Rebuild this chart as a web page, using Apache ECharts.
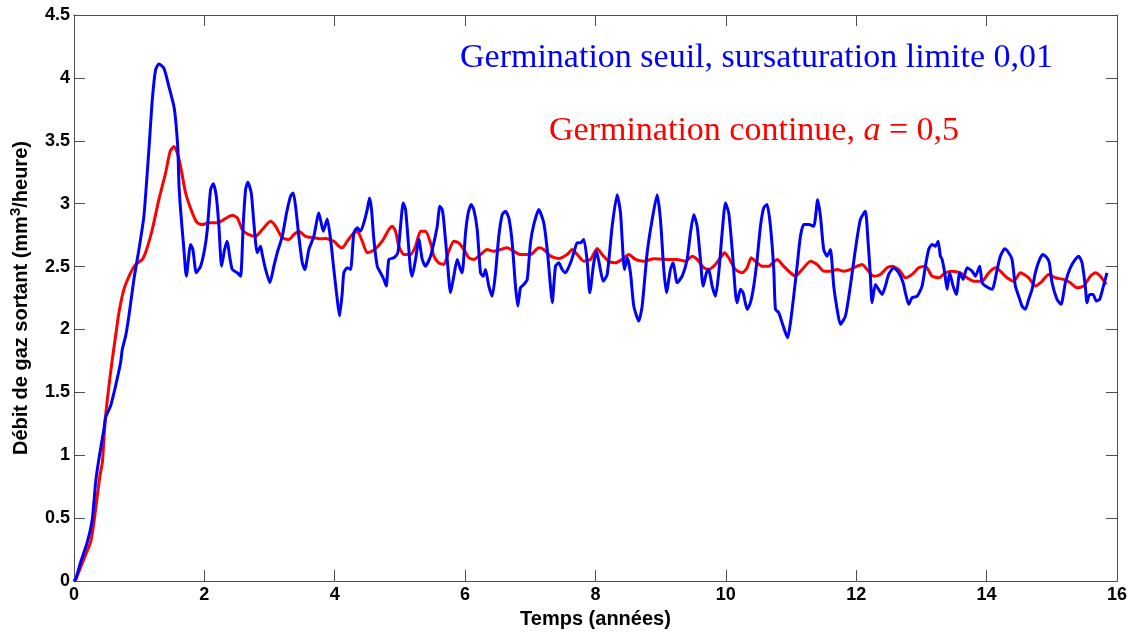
<!DOCTYPE html>
<html>
<head>
<meta charset="utf-8">
<script src="https://cdn.jsdelivr.net/npm/echarts@6/dist/echarts.min.js"></script>
<style>html,body{margin:0;padding:0;background:#fff;}#c{width:1131px;height:634px;}</style>
</head>
<body>
<div id="c"></div>
<script>
var xTicks = [0, 2, 4, 6, 8, 10, 12, 14, 16];
var yTicks = [0, 0.5, 1, 1.5, 2, 2.5, 3, 3.5, 4, 4.5];

var blueLabel = 'Germination seuil, sursaturation limite 0,01';
var redLabel = 'Germination continue, ';

var blueX = [0,0.03,0.103,0.205,0.282,0.333,0.383,0.46,0.486,0.563,0.639,0.716,0.742,0.793,0.843,0.92,0.997,1.073,1.15,1.202,1.253,1.303,1.38,1.457,1.534,1.56,1.595,1.61,1.636,1.687,1.724,1.79,1.825,1.877,1.943,2.004,2.046,2.096,2.138,2.184,2.224,2.265,2.311,2.352,2.388,2.429,2.506,2.556,2.598,2.633,2.668,2.72,2.76,2.812,2.863,2.889,2.94,3.006,3.067,3.119,3.196,3.262,3.323,3.364,3.4,3.45,3.503,3.542,3.604,3.68,3.757,3.825,3.886,3.937,3.987,4.039,4.074,4.116,4.14,4.193,4.243,4.294,4.346,4.397,4.447,4.499,4.535,4.565,4.601,4.653,4.703,4.754,4.791,4.831,4.907,4.969,5.01,5.051,5.087,5.122,5.163,5.189,5.24,5.291,5.343,5.393,5.47,5.521,5.573,5.613,5.649,5.674,5.726,5.777,5.827,5.879,5.93,5.956,6.007,6.048,6.094,6.134,6.186,6.237,6.278,6.313,6.364,6.416,6.467,6.517,6.57,6.62,6.671,6.723,6.773,6.809,6.85,6.901,6.953,7.003,7.054,7.131,7.207,7.26,7.31,7.336,7.387,7.437,7.49,7.54,7.617,7.668,7.72,7.77,7.821,7.873,7.913,7.974,8.016,8.066,8.118,8.18,8.256,8.333,8.384,8.445,8.486,8.537,8.588,8.664,8.716,8.793,8.87,8.946,8.997,9.048,9.089,9.15,9.192,9.253,9.33,9.406,9.457,9.508,9.56,9.61,9.652,9.703,9.738,9.79,9.841,9.891,9.943,9.994,10.044,10.097,10.147,10.173,10.224,10.265,10.327,10.377,10.428,10.48,10.531,10.581,10.633,10.684,10.735,10.761,10.811,10.863,10.914,10.949,10.991,11.041,11.093,11.144,11.195,11.271,11.348,11.409,11.451,11.501,11.553,11.604,11.655,11.707,11.757,11.834,11.91,11.987,12.063,12.14,12.176,12.217,12.243,12.293,12.344,12.397,12.447,12.498,12.575,12.651,12.719,12.754,12.805,12.857,12.934,13.01,13.061,13.111,13.163,13.214,13.256,13.291,13.317,13.357,13.394,13.433,13.486,13.536,13.587,13.639,13.7,13.777,13.828,13.894,13.931,13.981,14.084,14.161,14.211,14.277,14.338,14.39,14.441,14.492,14.544,14.594,14.645,14.697,14.747,14.813,14.865,14.927,14.962,15.004,15.08,15.142,15.208,15.284,15.361,15.411,15.464,15.514,15.54,15.58,15.632,15.683,15.733,15.785,15.846];
var blueY = [0,0.02,0.151,0.309,0.494,0.785,0.97,1.208,1.301,1.393,1.552,1.737,1.843,1.948,2.107,2.398,2.636,2.9,3.429,3.826,4.064,4.111,4.077,3.931,3.773,3.667,3.429,3.165,2.953,2.636,2.424,2.676,2.636,2.451,2.503,2.636,2.795,3.112,3.159,3.059,2.821,2.503,2.636,2.702,2.583,2.477,2.451,2.424,2.848,3.112,3.17,3.086,2.848,2.61,2.662,2.596,2.477,2.372,2.503,2.61,2.741,2.927,3.059,3.086,2.979,2.741,2.53,2.477,2.636,2.741,2.927,2.781,2.879,2.715,2.477,2.239,2.107,2.292,2.451,2.491,2.477,2.768,2.808,2.781,2.848,2.953,3.046,2.953,2.715,2.503,2.451,2.398,2.345,2.557,2.57,2.61,2.821,3.006,2.953,2.741,2.477,2.424,2.557,2.715,2.557,2.503,2.583,2.689,2.821,2.979,2.953,2.86,2.557,2.292,2.424,2.557,2.477,2.451,2.768,2.927,2.993,2.953,2.795,2.451,2.424,2.477,2.345,2.265,2.451,2.741,2.913,2.94,2.887,2.689,2.345,2.186,2.332,2.358,2.398,2.689,2.834,2.953,2.848,2.636,2.345,2.213,2.503,2.53,2.477,2.451,2.53,2.61,2.689,2.689,2.715,2.541,2.292,2.53,2.622,2.503,2.384,2.438,2.821,3.072,2.927,2.477,2.57,2.451,2.186,2.067,2.186,2.61,2.874,3.072,2.874,2.477,2.292,2.477,2.53,2.372,2.424,2.557,2.768,2.913,2.821,2.557,2.345,2.451,2.477,2.345,2.265,2.451,2.768,3.006,2.927,2.636,2.292,2.213,2.319,2.292,2.16,2.213,2.345,2.557,2.821,2.967,2.993,2.821,2.477,2.16,2.134,2.054,1.975,1.935,2.054,2.265,2.503,2.741,2.834,2.834,2.821,3.032,2.9,2.636,2.583,2.636,2.345,2.16,2.041,2.107,2.345,2.636,2.874,2.94,2.741,2.424,2.213,2.358,2.319,2.279,2.345,2.438,2.491,2.451,2.372,2.292,2.2,2.253,2.265,2.345,2.503,2.636,2.676,2.662,2.702,2.583,2.557,2.451,2.319,2.451,2.345,2.279,2.451,2.398,2.491,2.464,2.424,2.503,2.372,2.345,2.319,2.477,2.583,2.641,2.61,2.557,2.345,2.265,2.186,2.16,2.239,2.319,2.451,2.557,2.596,2.57,2.53,2.372,2.239,2.2,2.372,2.491,2.557,2.583,2.53,2.345,2.213,2.279,2.279,2.226,2.239,2.332,2.451];

var redX = [0,0.026,0.153,0.256,0.307,0.359,0.399,0.436,0.46,0.486,0.537,0.589,0.639,0.69,0.767,0.869,0.946,1.049,1.115,1.202,1.303,1.406,1.476,1.534,1.586,1.636,1.713,1.816,1.892,1.969,2.07,2.199,2.3,2.429,2.506,2.582,2.659,2.786,2.889,3.016,3.093,3.196,3.297,3.374,3.45,3.553,3.68,3.783,3.86,3.987,4.064,4.116,4.193,4.269,4.346,4.423,4.499,4.6,4.729,4.831,4.883,4.933,4.984,5.061,5.163,5.24,5.317,5.393,5.47,5.521,5.597,5.674,5.751,5.827,5.904,5.981,6.057,6.134,6.237,6.339,6.441,6.543,6.646,6.747,6.85,7.003,7.131,7.207,7.31,7.437,7.566,7.643,7.72,7.821,7.924,8.026,8.103,8.204,8.307,8.41,8.511,8.614,8.741,8.894,9.048,9.253,9.38,9.483,9.56,9.661,9.738,9.84,9.917,9.978,10.044,10.147,10.25,10.327,10.388,10.454,10.557,10.658,10.787,10.888,10.991,11.067,11.17,11.297,11.4,11.501,11.604,11.707,11.808,11.91,12.013,12.09,12.167,12.268,12.37,12.473,12.549,12.651,12.754,12.857,12.958,13.061,13.163,13.265,13.368,13.47,13.598,13.7,13.802,13.931,14.033,14.136,14.211,14.314,14.416,14.518,14.645,14.747,14.85,14.951,15.054,15.181,15.284,15.386,15.488,15.591,15.668,15.744,15.836];
var redY = [0,0.01,0.177,0.309,0.468,0.679,0.838,0.944,1.129,1.314,1.552,1.763,1.948,2.134,2.319,2.451,2.517,2.557,2.636,2.795,3.032,3.244,3.416,3.455,3.403,3.297,3.086,2.927,2.848,2.834,2.848,2.848,2.874,2.908,2.887,2.795,2.76,2.741,2.795,2.86,2.821,2.729,2.715,2.755,2.781,2.741,2.729,2.721,2.723,2.702,2.662,2.649,2.702,2.755,2.781,2.702,2.61,2.63,2.702,2.795,2.821,2.781,2.662,2.596,2.596,2.662,2.781,2.781,2.689,2.583,2.53,2.517,2.622,2.702,2.689,2.636,2.57,2.557,2.596,2.636,2.622,2.636,2.649,2.622,2.596,2.596,2.649,2.636,2.583,2.564,2.596,2.636,2.596,2.543,2.557,2.644,2.596,2.543,2.53,2.557,2.596,2.557,2.543,2.562,2.557,2.557,2.543,2.583,2.557,2.491,2.477,2.517,2.57,2.61,2.57,2.477,2.451,2.491,2.57,2.543,2.503,2.503,2.557,2.503,2.451,2.424,2.477,2.543,2.517,2.464,2.464,2.477,2.464,2.477,2.503,2.517,2.477,2.424,2.438,2.491,2.503,2.477,2.411,2.438,2.491,2.503,2.424,2.411,2.451,2.464,2.451,2.411,2.384,2.384,2.451,2.491,2.464,2.411,2.384,2.451,2.411,2.345,2.384,2.438,2.411,2.398,2.372,2.332,2.345,2.424,2.451,2.424,2.358];

function pairs(xs, ys) { return xs.map(function (x, i) { return [x, ys[i]]; }); }

var axisColor = '#4d4d4d';
var sans = 'Liberation Sans, Arial, sans-serif';
var serif = 'Liberation Serif, DejaVu Serif, serif';
var labelFont = { color: '#000', fontFamily: sans, fontWeight: 'bold', fontSize: 18 };
var tickStyle = { show: true, inside: true, length: 11, lineStyle: { color: axisColor, width: 1 } };
var lineStyleAx = { show: true, onZero: false, lineStyle: { color: axisColor, width: 1 } };

var chart = echarts.init(document.getElementById('c'), null, { renderer: 'canvas' });
chart.setOption({
  animation: false,
  backgroundColor: '#fff',
  grid: { left: 73, right: 14, top: 15, bottom: 52, containLabel: false },
  xAxis: [{
    type: 'value', min: xTicks[0], max: xTicks[xTicks.length - 1], interval: 2,
    name: 'Temps (années)', nameLocation: 'middle', nameGap: 26,
    nameTextStyle: { color: '#000', fontFamily: sans, fontWeight: 'bold', fontSize: 20 },
    axisLine: lineStyleAx, axisTick: tickStyle,
    axisLabel: Object.assign({ margin: 5 }, labelFont),
    splitLine: { show: false }
  }, {
    type: 'value', position: 'top', min: xTicks[0], max: xTicks[xTicks.length - 1], interval: 2,
    axisLine: lineStyleAx, axisTick: tickStyle,
    axisLabel: { show: false }, splitLine: { show: false }
  }],
  yAxis: [{
    type: 'value', min: yTicks[0], max: yTicks[yTicks.length - 1], interval: 0.5,
    name: 'Débit de gaz sortant (mm{sup|3}/heure)', nameLocation: 'middle', nameGap: 37, nameRotate: 90,
    nameTextStyle: {
      color: '#000', fontFamily: sans, fontWeight: 'bold', fontSize: 20, lineHeight: 26,
      rich: { sup: { color: '#000', fontFamily: sans, fontWeight: 'bold', fontSize: 15, verticalAlign: 'top', lineHeight: 26, padding: [0, 0, 10, 0] } }
    },
    axisLine: lineStyleAx, axisTick: tickStyle,
    axisLabel: Object.assign({ margin: 4 }, labelFont),
    splitLine: { show: false }
  }, {
    type: 'value', position: 'right', min: yTicks[0], max: yTicks[yTicks.length - 1], interval: 0.5,
    axisLine: lineStyleAx, axisTick: tickStyle,
    axisLabel: { show: false }, splitLine: { show: false }
  }],
  series: [{
    type: 'line', name: redLabel, xAxisIndex: 0, yAxisIndex: 0,
    data: pairs(redX, redY), showSymbol: false, smooth: 0.2,
    lineStyle: { color: '#ff0000', width: 3 }, z: 2
  }, {
    type: 'line', name: blueLabel, xAxisIndex: 0, yAxisIndex: 0,
    data: pairs(blueX, blueY), showSymbol: false, smooth: 0.2,
    lineStyle: { color: '#0000ff', width: 3 }, z: 3
  }],
  graphic: [{
    type: 'text', left: 460, top: 41,
    style: { text: blueLabel, fill: '#0000ff', font: '34px "Liberation Serif", "DejaVu Serif", serif' }
  }, {
    type: 'text', left: 549, top: 114,
    style: {
      text: '{n|' + redLabel + '}{i|a}{n| = 0,5}',
      rich: {
        n: { fill: '#ff0000', fontSize: 34, fontFamily: serif },
        i: { fill: '#ff0000', fontSize: 34, fontStyle: 'italic', fontFamily: serif }
      }
    }
  }]
});
</script>
</body>
</html>
